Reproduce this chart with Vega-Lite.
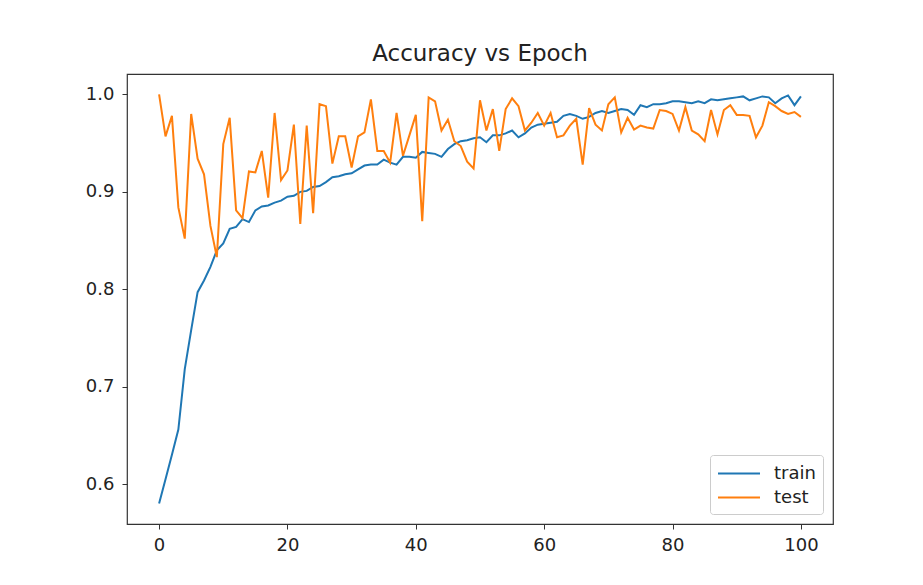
{
  "$schema": "https://vega.github.io/schema/vega-lite/v6.json",
  "autosize": {"type": "none"},
  "width": 706,
  "height": 450,
  "padding": {"left": 127, "top": 74, "right": 90, "bottom": 61},
  "background": "white",
  "title": {"text": "Accuracy vs Epoch", "font": "DejaVu Sans", "fontSize": 23, "fontWeight": "normal", "color": "#222222", "anchor": "middle", "offset": 8},
  "config": {
    "view": {"stroke": "#333333", "strokeWidth": 1.2},
    "axis": {"grid": false, "domain": false, "ticks": true, "tickColor": "#333333", "tickSize": 5, "labelFont": "DejaVu Sans", "labelFontSize": 18, "labelColor": "#222222", "title": null}
  },
  "datasets": {
    "acc": [
      {"epoch":0,"series":"train","acc":0.580},{"epoch":1,"series":"train","acc":0.605},{"epoch":2,"series":"train","acc":0.630},{"epoch":3,"series":"train","acc":0.656},{"epoch":4,"series":"train","acc":0.718},{"epoch":5,"series":"train","acc":0.758},{"epoch":6,"series":"train","acc":0.797},{"epoch":7,"series":"train","acc":0.809},{"epoch":8,"series":"train","acc":0.823},{"epoch":9,"series":"train","acc":0.840},
      {"epoch":10,"series":"train","acc":0.847},{"epoch":11,"series":"train","acc":0.862},{"epoch":12,"series":"train","acc":0.864},{"epoch":13,"series":"train","acc":0.872},{"epoch":14,"series":"train","acc":0.869},{"epoch":15,"series":"train","acc":0.881},{"epoch":16,"series":"train","acc":0.885},{"epoch":17,"series":"train","acc":0.886},{"epoch":18,"series":"train","acc":0.889},{"epoch":19,"series":"train","acc":0.891},
      {"epoch":20,"series":"train","acc":0.895},{"epoch":21,"series":"train","acc":0.896},{"epoch":22,"series":"train","acc":0.900},{"epoch":23,"series":"train","acc":0.901},{"epoch":24,"series":"train","acc":0.905},{"epoch":25,"series":"train","acc":0.906},{"epoch":26,"series":"train","acc":0.910},{"epoch":27,"series":"train","acc":0.915},{"epoch":28,"series":"train","acc":0.916},{"epoch":29,"series":"train","acc":0.918},
      {"epoch":30,"series":"train","acc":0.919},{"epoch":31,"series":"train","acc":0.923},{"epoch":32,"series":"train","acc":0.927},{"epoch":33,"series":"train","acc":0.928},{"epoch":34,"series":"train","acc":0.928},{"epoch":35,"series":"train","acc":0.933},{"epoch":36,"series":"train","acc":0.930},{"epoch":37,"series":"train","acc":0.928},{"epoch":38,"series":"train","acc":0.936},{"epoch":39,"series":"train","acc":0.936},
      {"epoch":40,"series":"train","acc":0.935},{"epoch":41,"series":"train","acc":0.941},{"epoch":42,"series":"train","acc":0.940},{"epoch":43,"series":"train","acc":0.939},{"epoch":44,"series":"train","acc":0.936},{"epoch":45,"series":"train","acc":0.944},{"epoch":46,"series":"train","acc":0.949},{"epoch":47,"series":"train","acc":0.952},{"epoch":48,"series":"train","acc":0.953},{"epoch":49,"series":"train","acc":0.955},
      {"epoch":50,"series":"train","acc":0.956},{"epoch":51,"series":"train","acc":0.951},{"epoch":52,"series":"train","acc":0.958},{"epoch":53,"series":"train","acc":0.958},{"epoch":54,"series":"train","acc":0.960},{"epoch":55,"series":"train","acc":0.963},{"epoch":56,"series":"train","acc":0.956},{"epoch":57,"series":"train","acc":0.960},{"epoch":58,"series":"train","acc":0.966},{"epoch":59,"series":"train","acc":0.969},
      {"epoch":60,"series":"train","acc":0.970},{"epoch":61,"series":"train","acc":0.971},{"epoch":62,"series":"train","acc":0.972},{"epoch":63,"series":"train","acc":0.978},{"epoch":64,"series":"train","acc":0.980},{"epoch":65,"series":"train","acc":0.978},{"epoch":66,"series":"train","acc":0.975},{"epoch":67,"series":"train","acc":0.977},{"epoch":68,"series":"train","acc":0.981},{"epoch":69,"series":"train","acc":0.983},
      {"epoch":70,"series":"train","acc":0.981},{"epoch":71,"series":"train","acc":0.983},{"epoch":72,"series":"train","acc":0.985},{"epoch":73,"series":"train","acc":0.984},{"epoch":74,"series":"train","acc":0.979},{"epoch":75,"series":"train","acc":0.989},{"epoch":76,"series":"train","acc":0.987},{"epoch":77,"series":"train","acc":0.990},{"epoch":78,"series":"train","acc":0.990},{"epoch":79,"series":"train","acc":0.991},
      {"epoch":80,"series":"train","acc":0.993},{"epoch":81,"series":"train","acc":0.993},{"epoch":82,"series":"train","acc":0.992},{"epoch":83,"series":"train","acc":0.991},{"epoch":84,"series":"train","acc":0.993},{"epoch":85,"series":"train","acc":0.991},{"epoch":86,"series":"train","acc":0.995},{"epoch":87,"series":"train","acc":0.994},{"epoch":88,"series":"train","acc":0.995},{"epoch":89,"series":"train","acc":0.996},
      {"epoch":90,"series":"train","acc":0.997},{"epoch":91,"series":"train","acc":0.998},{"epoch":92,"series":"train","acc":0.994},{"epoch":93,"series":"train","acc":0.996},{"epoch":94,"series":"train","acc":0.998},{"epoch":95,"series":"train","acc":0.997},{"epoch":96,"series":"train","acc":0.991},{"epoch":97,"series":"train","acc":0.996},{"epoch":98,"series":"train","acc":0.999},{"epoch":99,"series":"train","acc":0.989},{"epoch":100,"series":"train","acc":0.998},
      {"epoch":0,"series":"test","acc":1.000},{"epoch":1,"series":"test","acc":0.957},{"epoch":2,"series":"test","acc":0.978},{"epoch":3,"series":"test","acc":0.884},{"epoch":4,"series":"test","acc":0.852},{"epoch":5,"series":"test","acc":0.980},{"epoch":6,"series":"test","acc":0.934},{"epoch":7,"series":"test","acc":0.918},{"epoch":8,"series":"test","acc":0.865},{"epoch":9,"series":"test","acc":0.833},
      {"epoch":10,"series":"test","acc":0.949},{"epoch":11,"series":"test","acc":0.976},{"epoch":12,"series":"test","acc":0.881},{"epoch":13,"series":"test","acc":0.873},{"epoch":14,"series":"test","acc":0.921},{"epoch":15,"series":"test","acc":0.920},{"epoch":16,"series":"test","acc":0.942},{"epoch":17,"series":"test","acc":0.894},{"epoch":18,"series":"test","acc":0.981},{"epoch":19,"series":"test","acc":0.912},
      {"epoch":20,"series":"test","acc":0.922},{"epoch":21,"series":"test","acc":0.969},{"epoch":22,"series":"test","acc":0.867},{"epoch":23,"series":"test","acc":0.968},{"epoch":24,"series":"test","acc":0.878},{"epoch":25,"series":"test","acc":0.990},{"epoch":26,"series":"test","acc":0.988},{"epoch":27,"series":"test","acc":0.929},{"epoch":28,"series":"test","acc":0.957},{"epoch":29,"series":"test","acc":0.957},
      {"epoch":30,"series":"test","acc":0.925},{"epoch":31,"series":"test","acc":0.957},{"epoch":32,"series":"test","acc":0.961},{"epoch":33,"series":"test","acc":0.995},{"epoch":34,"series":"test","acc":0.942},{"epoch":35,"series":"test","acc":0.942},{"epoch":36,"series":"test","acc":0.930},{"epoch":37,"series":"test","acc":0.981},{"epoch":38,"series":"test","acc":0.937},{"epoch":39,"series":"test","acc":0.958},
      {"epoch":40,"series":"test","acc":0.979},{"epoch":41,"series":"test","acc":0.870},{"epoch":42,"series":"test","acc":0.997},{"epoch":43,"series":"test","acc":0.993},{"epoch":44,"series":"test","acc":0.963},{"epoch":45,"series":"test","acc":0.974},{"epoch":46,"series":"test","acc":0.952},{"epoch":47,"series":"test","acc":0.947},{"epoch":48,"series":"test","acc":0.931},{"epoch":49,"series":"test","acc":0.924},
      {"epoch":50,"series":"test","acc":0.994},{"epoch":51,"series":"test","acc":0.963},{"epoch":52,"series":"test","acc":0.985},{"epoch":53,"series":"test","acc":0.942},{"epoch":54,"series":"test","acc":0.985},{"epoch":55,"series":"test","acc":0.996},{"epoch":56,"series":"test","acc":0.988},{"epoch":57,"series":"test","acc":0.963},{"epoch":58,"series":"test","acc":0.971},{"epoch":59,"series":"test","acc":0.981},
      {"epoch":60,"series":"test","acc":0.968},{"epoch":61,"series":"test","acc":0.981},{"epoch":62,"series":"test","acc":0.956},{"epoch":63,"series":"test","acc":0.958},{"epoch":64,"series":"test","acc":0.968},{"epoch":65,"series":"test","acc":0.975},{"epoch":66,"series":"test","acc":0.928},{"epoch":67,"series":"test","acc":0.986},{"epoch":68,"series":"test","acc":0.969},{"epoch":69,"series":"test","acc":0.963},
      {"epoch":70,"series":"test","acc":0.990},{"epoch":71,"series":"test","acc":0.997},{"epoch":72,"series":"test","acc":0.961},{"epoch":73,"series":"test","acc":0.976},{"epoch":74,"series":"test","acc":0.964},{"epoch":75,"series":"test","acc":0.968},{"epoch":76,"series":"test","acc":0.966},{"epoch":77,"series":"test","acc":0.965},{"epoch":78,"series":"test","acc":0.984},{"epoch":79,"series":"test","acc":0.983},
      {"epoch":80,"series":"test","acc":0.980},{"epoch":81,"series":"test","acc":0.963},{"epoch":82,"series":"test","acc":0.987},{"epoch":83,"series":"test","acc":0.963},{"epoch":84,"series":"test","acc":0.959},{"epoch":85,"series":"test","acc":0.952},{"epoch":86,"series":"test","acc":0.984},{"epoch":87,"series":"test","acc":0.959},{"epoch":88,"series":"test","acc":0.984},{"epoch":89,"series":"test","acc":0.989},
      {"epoch":90,"series":"test","acc":0.979},{"epoch":91,"series":"test","acc":0.979},{"epoch":92,"series":"test","acc":0.978},{"epoch":93,"series":"test","acc":0.956},{"epoch":94,"series":"test","acc":0.968},{"epoch":95,"series":"test","acc":0.992},{"epoch":96,"series":"test","acc":0.988},{"epoch":97,"series":"test","acc":0.983},{"epoch":98,"series":"test","acc":0.980},{"epoch":99,"series":"test","acc":0.982},{"epoch":100,"series":"test","acc":0.977}
    ]
  },
  "data": {"name": "acc"},
  "mark": {"type": "line", "strokeWidth": 2, "interpolate": "linear"},
  "encoding": {
    "x": {"field": "epoch", "type": "quantitative", "scale": {"domain": [-5, 105], "nice": false, "zero": false},
          "axis": {"values": [0, 20, 40, 60, 80, 100], "labelPadding": 7, "labelFlush": false}},
    "y": {"field": "acc", "type": "quantitative", "scale": {"domain": [0.559, 1.021], "nice": false, "zero": false},
          "axis": {"values": [0.6, 0.7, 0.8, 0.9, 1.0], "format": ".1f", "labelPadding": 8}},
    "color": {"field": "series", "type": "nominal", "sort": ["train", "test"],
              "scale": {"domain": ["train", "test"], "range": ["#1f77b4", "#ff7f0e"]},
              "legend": {"title": null, "orient": "bottom-right", "offset": 10, "symbolType": "M-1,0L3,0", "symbolSize": 441, "symbolStrokeWidth": 2,
                         "labelFont": "DejaVu Sans", "labelFontSize": 18, "labelColor": "#222222", "labelOffset": 34,
                         "fillColor": "white", "strokeColor": "#cccccc", "cornerRadius": 3, "padding": 7, "rowPadding": 3}}
  }
}
